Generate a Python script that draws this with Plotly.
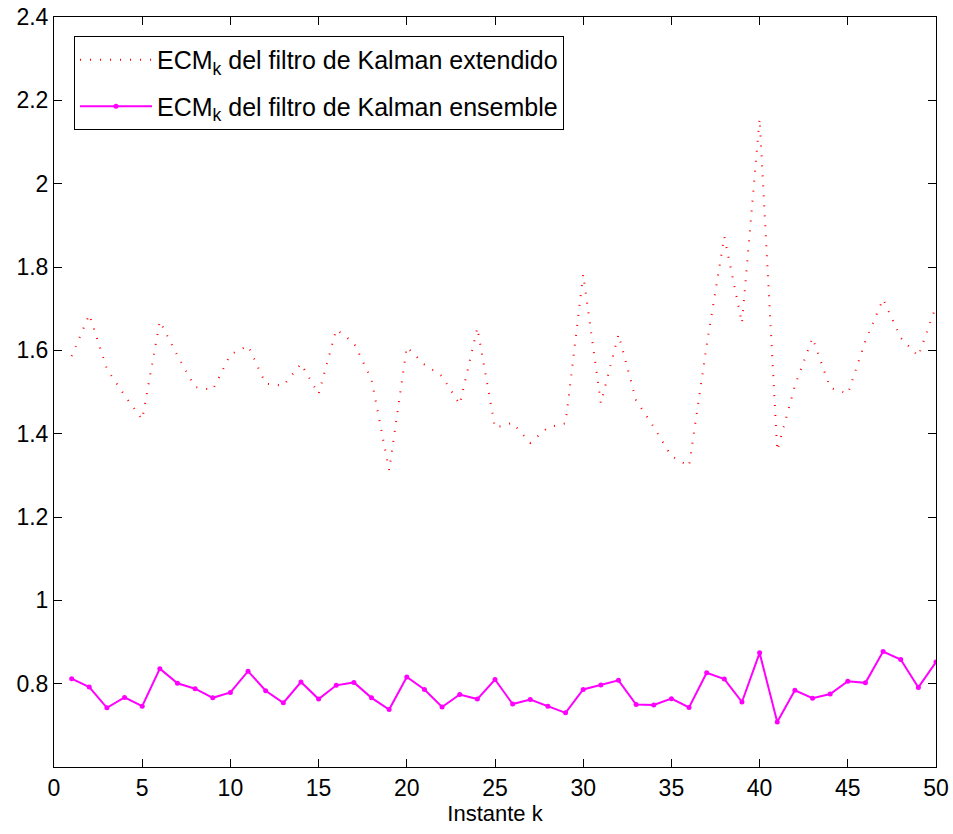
import plotly.graph_objects as go

k = list(range(1, 51))

ecm_ekf = [1.586, 1.686, 1.555, 1.492, 1.434, 1.670, 1.587, 1.512, 1.505, 1.590,
           1.611, 1.520, 1.515, 1.568, 1.495, 1.650, 1.618, 1.530, 1.312, 1.608,
           1.566, 1.538, 1.470, 1.654, 1.414, 1.426, 1.378, 1.415, 1.425, 1.782,
           1.473, 1.638, 1.480, 1.416, 1.346, 1.322, 1.612, 1.873, 1.665, 2.156,
           1.359, 1.515, 1.630, 1.510, 1.496, 1.623, 1.723, 1.630, 1.586, 1.706]

ecm_enkf = [0.812, 0.792, 0.742, 0.767, 0.746, 0.836, 0.801, 0.788, 0.766, 0.779,
            0.830, 0.783, 0.754, 0.804, 0.763, 0.796, 0.803, 0.766, 0.738, 0.816,
            0.786, 0.744, 0.774, 0.763, 0.810, 0.751, 0.762, 0.746, 0.730, 0.786,
            0.797, 0.808, 0.750, 0.749, 0.764, 0.743, 0.826, 0.811, 0.756, 0.874,
            0.708, 0.784, 0.765, 0.775, 0.806, 0.802, 0.877, 0.858, 0.791, 0.852]

x_ticks = [0, 5, 10, 15, 20, 25, 30, 35, 40, 45, 50]
y_ticks = [0.8, 1.0, 1.2, 1.4, 1.6, 1.8, 2.0, 2.2, 2.4]
y_ticktext = ["0.8", "1", "1.2", "1.4", "1.6", "1.8", "2", "2.2", "2.4"]

names = ["ECM<sub>k</sub> del filtro de Kalman extendido",
         "ECM<sub>k</sub> del filtro de Kalman ensemble"]

FONT = "Liberation Sans, Arial, Helvetica, sans-serif"

fig = go.Figure()
fig.add_trace(go.Scatter(
    x=k, y=ecm_ekf, mode="lines", name=names[0], legendgroup="a",
    line=dict(color="#ff0000", width=2, dash="1px,9px"),
))
fig.add_trace(go.Scatter(
    x=k, y=ecm_enkf, mode="lines+markers", name=names[1], legendgroup="b",
    line=dict(color="#ff00ff", width=2),
    marker=dict(color="#ff00ff", size=5),
))

axis_common = dict(
    showline=True, linecolor="black", linewidth=1, mirror="ticks",
    ticks="inside", ticklen=8, tickcolor="black", tickwidth=1,
    showgrid=False, zeroline=False, automargin=False,
    ticklabeloverflow="allow",
    tickfont=dict(family=FONT, size=23, color="black"),
)

fig.update_layout(
    width=953, height=834,
    margin=dict(l=54, r=17, t=17, b=67),
    paper_bgcolor="white", plot_bgcolor="white",
    font=dict(family=FONT, size=23, color="black"),
    showlegend=True,
    legend=dict(
        x=0.0227, y=0.9747, xanchor="left", yanchor="top",
        bgcolor="white", bordercolor="black", borderwidth=1,
        font=dict(family=FONT, size=25, color="black"),
        itemwidth=72, tracegroupgap=11,
    ),
    xaxis=dict(range=[0, 50], tickvals=x_ticks,
               title=dict(text="Instante k", font=dict(family=FONT, size=22), standoff=4),
               **axis_common),
    yaxis=dict(range=[0.6, 2.4], tickvals=y_ticks, ticktext=y_ticktext,
               **axis_common),
)

fig.write_html(
    "out.html",
    config={"displayModeBar": False},
    post_script="document.body.style.margin='0';document.body.style.overflow='hidden';",
)
